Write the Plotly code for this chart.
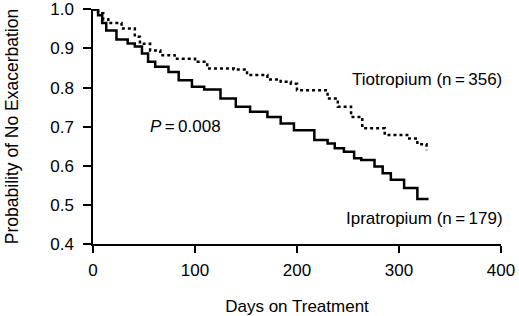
import plotly.graph_objects as go

# Kaplan-Meier style step data (days, probability)
tio_days = [0, 5, 10, 15, 28, 41, 46, 56, 66, 80, 100, 112, 138, 151, 171, 184, 194, 200,
            230, 240, 253, 264, 286, 308, 318, 327]
tio_prob = [1.0, 0.99, 0.975, 0.965, 0.951, 0.93, 0.912, 0.895, 0.883, 0.874, 0.866, 0.849,
            0.846, 0.832, 0.821, 0.815, 0.81, 0.793, 0.772, 0.751, 0.725, 0.696, 0.679, 0.67,
            0.655, 0.64]

ipr_days = [0, 5, 9, 13, 23, 34, 41, 48, 54, 61, 74, 84, 97, 109, 125, 140, 154, 171, 184,
            197, 217, 230, 237, 246, 256, 263, 276, 284, 292, 305, 318, 329]
ipr_prob = [1.0, 0.985, 0.965, 0.946, 0.923, 0.913, 0.905, 0.887, 0.866, 0.853, 0.84, 0.819,
            0.802, 0.795, 0.772, 0.751, 0.738, 0.725, 0.708, 0.691, 0.666, 0.657, 0.645, 0.636,
            0.619, 0.615, 0.598, 0.581, 0.564, 0.543, 0.515, 0.515]

x_ticks = [0, 100, 200, 300, 400]
y_ticks = [0.4, 0.5, 0.6, 0.7, 0.8, 0.9, 1.0]
y_ticklabels = ["0.4", "0.5", "0.6", "0.7", "0.8", "0.9", "1.0"]

FONT = "Liberation Sans, Arial, Helvetica, sans-serif"
FS = 17

fig = go.Figure()
fig.add_trace(go.Scatter(x=tio_days, y=tio_prob, mode="lines", line_shape="hv",
                         line=dict(color="black", width=2.5, dash="dot"), name="Tiotropium"))
fig.add_trace(go.Scatter(x=ipr_days, y=ipr_prob, mode="lines", line_shape="hv",
                         line=dict(color="black", width=2.5), name="Ipratropium"))

fig.add_annotation(x=252, y=0.821, xref="x", yref="y", text="Tiotropium (n\u2009=\u2009356)",
                   showarrow=False, xanchor="left", yanchor="middle",
                   font=dict(family=FONT, size=FS, color="black"))
fig.add_annotation(x=246, y=0.466, xref="x", yref="y", text="Ipratropium (n\u2009=\u2009179)",
                   showarrow=False, xanchor="left", yanchor="middle",
                   font=dict(family=FONT, size=FS, color="black"))
fig.add_annotation(x=54, y=0.70, xref="x", yref="y", text="<i>P</i>\u2009=\u20090.008",
                   showarrow=False, xanchor="left", yanchor="middle",
                   font=dict(family=FONT, size=FS, color="black"))

fig.update_layout(
    width=519, height=316,
    margin=dict(l=93, r=18, t=9, b=72, autoexpand=False),
    paper_bgcolor="white", plot_bgcolor="white",
    showlegend=False,
    font=dict(family=FONT, size=FS, color="black"),
)
fig.update_xaxes(range=[0, 400], tickvals=x_ticks, showgrid=False, zeroline=False,
                 showline=True, linecolor="black", linewidth=1.5, automargin=False,
                 ticks="outside", ticklen=7, tickwidth=1.5, tickcolor="black",
                 ticklabelstandoff=3,
                 title=dict(text="Days on Treatment", standoff=21,
                            font=dict(family=FONT, size=FS)))
fig.update_yaxes(range=[0.4, 1.001], tickvals=y_ticks, ticktext=y_ticklabels, showgrid=False,
                 zeroline=False, showline=True, linecolor="black", linewidth=1.5,
                 automargin=False,
                 ticks="outside", ticklen=8, tickwidth=1.5, tickcolor="black",
                 ticklabelstandoff=6,
                 title=dict(text="Probability of No Exacerbation", standoff=27,
                            font=dict(family=FONT, size=17.5)))

fig.write_html("out.html", config={"displayModeBar": False},
               post_script="document.body.style.margin='0px';document.body.style.overflow='hidden';")
